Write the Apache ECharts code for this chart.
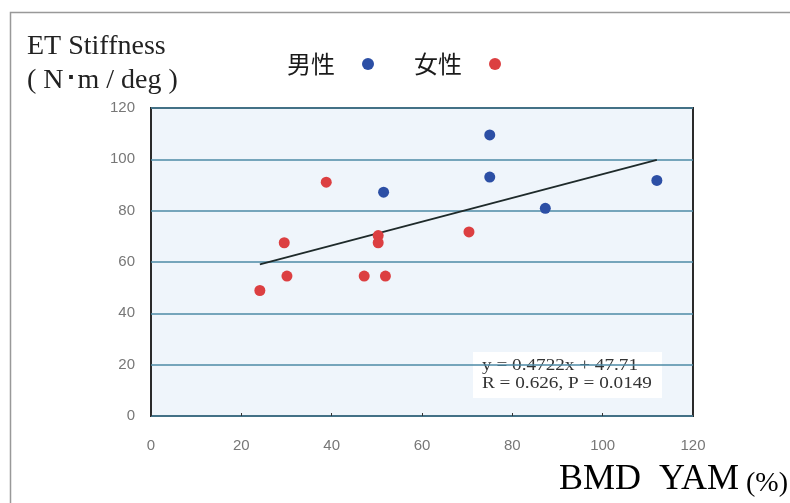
<!DOCTYPE html>
<html>
<head>
<meta charset="utf-8">
<script src="https://cdn.jsdelivr.net/npm/echarts@6/dist/echarts.min.js"></script>
<style>
  html, body { margin: 0; padding: 0; background: #fff; }
  #main { width: 790px; height: 503px; }
</style>
</head>
<body>
<div id="main"></div>
<script>
    // 読み取った値 (BMD YAM %, ET Stiffness)
    var maleX = [51.5, 75, 75, 87.3, 112];
    var maleY = [87.2, 109.5, 93.1, 80.9, 91.8];
    var femaleX = [38.8, 29.5, 30.1, 24.1, 47.2, 51.9, 50.3, 50.3, 70.4];
    var femaleY = [91.1, 67.5, 54.5, 48.9, 54.5, 54.5, 70.3, 67.5, 71.7];
    // 近似直線の端点 (y = 0.4722x + 47.71)
    var trendX = [24.1, 112];
    var trendY = [59.1, 99.8];
    var xTicks = [0, 20, 40, 60, 80, 100, 120];
    var yTicks = [0, 20, 40, 60, 80, 100, 120];

    function pairs(xs, ys) {
        var out = [];
        for (var i = 0; i < xs.length; i++) {
            out.push([xs[i], ys[i]]);
        }
        return out;
    }

    var myChart = echarts.init(document.getElementById('main'));
    var serif = '"Liberation Serif", "DejaVu Serif", serif';
    var option = {
        backgroundColor: '#fff',
        animation: false,
        title: {
            text: 'ET Stiffness\n( N･m / deg )',
            left: 22,
            top: 25,
            textStyle: {
                fontFamily: serif,
                fontWeight: 'normal',
                fontSize: 28,
                lineHeight: 34,
                color: '#222'
            }
        },
        legend: {
            left: 282,
            top: 47,
            align: 'right',
            itemGap: 40,
            itemWidth: 12,
            itemHeight: 12,
            icon: 'circle',
            data: ['男性', '女性'],
            textStyle: {
                fontFamily: '"Noto Sans CJK JP", sans-serif',
                fontSize: 24,
                color: '#1a1a1a',
                padding: [0, 22, 0, 0]
            }
        },
        grid: {
            left: 151,
            right: 97,
            top: 108,
            bottom: 87,
            show: true,
            backgroundColor: '#eff5fb',
            borderColor: '#2a2a2a',
            borderWidth: 2
        },
        xAxis: {
            type: 'value',
            min: xTicks[0],
            max: xTicks[xTicks.length - 1],
            interval: 20,
            axisLine: {show: false},
            axisTick: {show: true, inside: true, length: 3, lineStyle: {color: '#333'}},
            splitLine: {show: false},
            axisLabel: {
                margin: 22,
                color: '#777',
                fontSize: 15,
                fontFamily: '"Liberation Sans", sans-serif'
            }
        },
        yAxis: {
            type: 'value',
            min: yTicks[0],
            max: yTicks[yTicks.length - 1],
            interval: 20,
            axisLine: {show: false},
            axisTick: {show: false},
            splitLine: {lineStyle: {color: '#4d8aa6', width: 1.5}},
            axisLabel: {
                margin: 16,
                color: '#777',
                fontSize: 15,
                fontFamily: '"Liberation Sans", sans-serif'
            }
        },
        graphic: [
            {
                type: 'group',
                left: 473,
                top: 352,
                z: 100,
                children: [
                    {
                        type: 'rect',
                        shape: {x: 0, y: 0, width: 189, height: 46},
                        style: {fill: '#fff'}
                    },
                    {
                        type: 'text',
                        x: 9,
                        y: 5,
                        scaleX: 1.2,
                        style: {
                            text: 'y = 0.4722x + 47.71\nR = 0.626, P = 0.0149',
                            font: '16px ' + serif,
                            lineHeight: 18,
                            fill: '#333'
                        }
                    }
                ]
            },
            {
                type: 'text',
                right: 2,
                top: 462,
                style: {
                    text: '{a|BMD  YAM}{b| (%)}',
                    rich: {
                        a: {fontFamily: serif, fontSize: 36, color: '#222', verticalAlign: 'bottom'},
                        b: {fontFamily: serif, fontSize: 28, color: '#222', verticalAlign: 'bottom'}
                    }
                }
            },
            {
                type: 'rect',
                left: 8,
                top: 10,
                shape: {x: 0, y: 0, width: 800, height: 520},
                style: {fill: 'none', stroke: '#999', lineWidth: 1.5},
                silent: true
            }
        ],
        series: [
            {
                name: '男性',
                type: 'scatter',
                symbolSize: 11,
                itemStyle: {color: '#2c4fa5', opacity: 1},
                data: pairs(maleX, maleY),
                z: 3
            },
            {
                name: '女性',
                type: 'scatter',
                symbolSize: 11,
                itemStyle: {color: '#dc3f41', opacity: 1},
                data: pairs(femaleX, femaleY),
                z: 3
            },
            {
                name: 'trend',
                type: 'line',
                showSymbol: false,
                lineStyle: {color: '#1e2a2a', width: 1.8},
                data: pairs(trendX, trendY),
                z: 2
            }
        ]
    };
    myChart.setOption(option);
</script>
</body>
</html>
